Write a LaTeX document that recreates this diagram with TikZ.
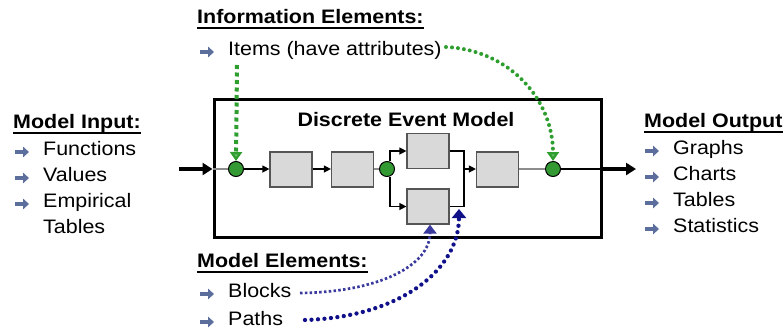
\documentclass[tikz,border=0pt]{standalone}
\usepackage{fontspec}
\setmainfont{Liberation Sans}[FakeStretch=1.1]
\usetikzlibrary{arrows.meta}
\definecolor{dotgreen}{HTML}{339933}
\definecolor{arrowgreen}{HTML}{2E9E2E}
\definecolor{navyA}{HTML}{3A3A9E}
\definecolor{navyB}{HTML}{10108A}
\definecolor{boxfill}{HTML}{D9D9D9}
\definecolor{boxdraw}{HTML}{555555}
\definecolor{bulc}{HTML}{5B6E9C}
\begin{document}
\begin{tikzpicture}[x=1pt,y=-1pt,
  txt/.style={font=\fontsize{19.5}{23}\selectfont, inner sep=0, anchor=base west},
  hd/.style={font=\fontsize{19.5}{23}\selectfont\bfseries, inner sep=0, anchor=base west},
  bulletarrow/.pic={\draw[bulc, line width=3.2pt, -{Triangle[length=6pt,width=10.5pt]}] (0,0) -- (14,0);},
  blk/.style={draw=boxdraw, fill=boxfill, line width=1.2pt, minimum width=42pt, minimum height=35pt, inner sep=0},
  gdot/.style={circle, draw=black, fill=dotgreen, line width=1pt, minimum size=15pt, inner sep=0},
  ln/.style={line width=1.3pt, black},
  lngray/.style={line width=1.3pt, black!45},
  arr/.style={ln, -{Triangle[length=7pt,width=7pt]}},
  bigarr/.style={line width=3.5pt, -{Triangle[length=10pt,width=12pt]}},
  uline/.style={line width=2pt},
  gsq/.style={arrowgreen, line width=4pt, dash pattern=on 4pt off 3.5pt, -{Triangle[length=9pt,width=12pt,fill=arrowgreen!70]}},
  grd/.style={arrowgreen, line width=4pt, line cap=round, dash pattern=on 0pt off 6pt, -{Triangle[length=9pt,width=12pt,fill=arrowgreen!70,line cap=butt]}},
  bsh/.style={navyA, line width=2.7pt, dash pattern=on 2.5pt off 2.3pt, -{Triangle[length=9pt,width=13pt]}},
  brd/.style={navyB, line width=4.3pt, line cap=round, dash pattern=on 0pt off 6.5pt, -{Triangle[length=9pt,width=14pt,line cap=butt]}}
]
\useasboundingbox (0,0) rectangle (783,330);

% main model box
\node[draw, line width=3pt, minimum width=387pt, minimum height=138pt, inner sep=0] (model) at (407.5,168) {};
\node[hd, anchor=base] (title) at (406,126) {Discrete Event Model};

% blocks
\node[blk] (b1) at (291,169.5) {};
\node[blk] (b2) at (352.5,169.5) {};
\node[blk] (b3) at (428,151) {};
\node[blk] (b4) at (428,206.5) {};
\node[blk] (b5) at (497.5,169.5) {};

% circles
\node[gdot] (c1) at (236,169) {};
\node[gdot] (c2) at (387,169) {};
\node[gdot] (c3) at (553,169) {};

\coordinate (inS) at (179,169);
\coordinate (outE) at (636,169);
\coordinate (mBot) at (464,206.5);
\coordinate (mMid) at (464,169);

% main flow
\draw[bigarr] (inS) -- (inS -| model.west);
\draw[lngray] (c1 -| model.west) -- (c1.west);
\draw[arr] (c1.east) -- (b1.west |- c1);
\draw[arr] (b1.east |- c1) -- (b2.west |- c1);
\draw[lngray] (b2.east |- c2) -- (c2.west);
\draw[arr] ([xshift=3pt]c2.north) |- (b3.west);
\draw[arr] ([xshift=3pt]c2.south) |- (b4.west);
\draw[ln] (b3.east) -| (mBot) -- (b4.east);
\draw[arr] (mMid) -- (b5.west |- mMid);
\draw[lngray] (b5.east |- c3) -- (c3.west);
\draw[ln] (c3.east) -- (c3 -| model.east);
\draw[bigarr] (c3 -| model.east) -- (outE);

% Model Input
\node[hd] (hIn) at (13,128) {Model Input:};
\draw[uline] ([yshift=-5pt]hIn.base west) -- ([yshift=-5pt]hIn.base east);
\pic at (15,152) {bulletarrow};
\node[txt] (ti1) at (43,155) {Functions};
\pic at (15,178) {bulletarrow};
\node[txt] (ti2) at (43,181) {Values};
\pic at (15,204) {bulletarrow};
\node[txt] (ti3) at (43,207) {Empirical};
\node[txt] (ti4) at (43,233) {Tables};

% Model Output
\node[hd] (hOut) at (644,127) {Model Output};
\draw[uline] ([yshift=-5pt]hOut.base west) -- ([yshift=-5pt]hOut.base east);
\pic at (645,151) {bulletarrow};
\node[txt] (to1) at (673,154) {Graphs};
\pic at (645,177) {bulletarrow};
\node[txt] (to2) at (673,180) {Charts};
\pic at (645,203) {bulletarrow};
\node[txt] (to3) at (673,206) {Tables};
\pic at (645,229) {bulletarrow};
\node[txt] (to4) at (673,232) {Statistics};

% Information Elements
\node[hd] (hInfo) at (197,23) {Information Elements:};
\draw[uline] ([yshift=-5pt]hInfo.base west) -- ([yshift=-5pt]hInfo.base east);
\pic at (200,52) {bulletarrow};
\node[txt] (items) at (228,55) {Items (have attributes)};

% Model Elements
\node[hd] (hElem) at (197,267) {Model Elements:};
\draw[uline] ([yshift=-5pt]hElem.base west) -- ([yshift=-5pt]hElem.base east);
\pic at (200,294) {bulletarrow};
\node[txt] (blocks) at (228,297) {Blocks};
\pic at (200,322) {bulletarrow};
\node[txt] (paths) at (228,325) {Paths};

% dotted connectors
\coordinate (gS) at (237,65);
\coordinate (gC) at (446,47);
\coordinate (bS) at (300,293);
\coordinate (pS) at (305,320);
\coordinate (pE) at (459,209);
\draw[gsq] (gS) -- (c1.north);
\draw[grd] (gC) .. controls (510,50) and (553,100) .. (c3.north);
\draw[bsh] (bS) .. controls (380,292) and (430,265) .. ([xshift=2pt]b4.south);
\draw[brd] (pS) .. controls (400,317) and (459,270) .. (pE);
\end{tikzpicture}
\end{document}
